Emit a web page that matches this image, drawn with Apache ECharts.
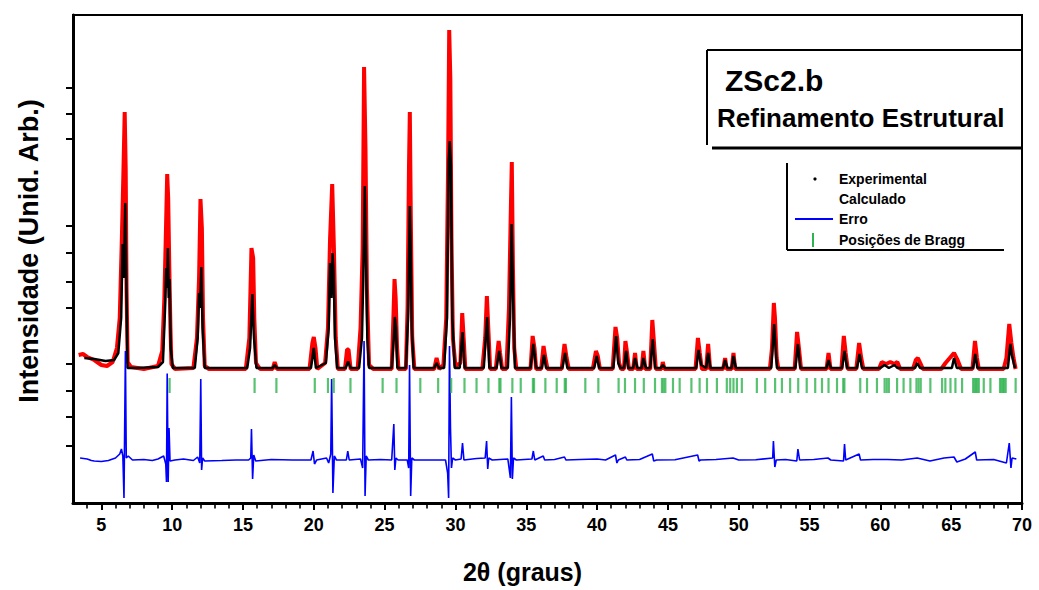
<!DOCTYPE html>
<html>
<head>
<meta charset="utf-8">
<script src="https://cdn.jsdelivr.net/npm/echarts/dist/echarts.min.js"></script>
<style>
html,body{margin:0;padding:0;background:#fff;}
#chart{width:1039px;height:590px;}
</style>
</head>
<body>
<div id="chart"></div>
<script>
// ---- Data (2θ in degrees, intensity in arbitrary units) ----
const xTickLabels = [5,10,15,20,25,30,35,40,45,50,55,60,65,70];
const xMinorTicks = [4,6,7,8,9,11,12,13,14,16,17,18,19,21,22,23,24,26,27,28,29,31,32,33,34,36,37,38,39,41,42,43,44,46,47,48,49,51,52,53,54,56,57,58,59,61,62,63,64,66,67,68,69];
const yTickValues = [2806,2547,2289,1427,1151,864,599,47,-229,-487,-773];

const experimental = [
[3.4,130],[3.7,140],[4.0,110],[4.5,80],[5.0,30],[5.4,20],[5.8,60],[6.1,200],[6.3,500],[6.45,1300],[6.55,1900],[6.65,2560],[6.72,2000],[6.78,800],[6.86,60],[7.1,10],[8.0,-10],[9.0,20],
[9.3,170],[9.45,700],[9.55,1300],[9.65,1940],[9.72,1700],[9.8,1000],[9.88,400],[9.95,40],[10.2,-10],
[11.5,0],[11.75,300],[11.9,900],[12.0,1690],[12.1,1400],[12.18,500],[12.3,20],[12.6,-10],
[15.2,-10],[15.45,300],[15.6,1200],[15.72,1100],[15.8,500],[15.92,50],[16.2,-10],
[17.1,-10],[17.24,60],[17.4,-10],
[19.7,-10],[19.9,250],[20.0,310],[20.12,200],[20.25,-10],
[20.8,50],[21.0,400],[21.15,1300],[21.3,1840],[21.42,1200],[21.55,300],[21.7,-10],
[22.2,-10],[22.35,185],[22.45,185],[22.6,-10],
[23.1,-10],[23.3,400],[23.45,1200],[23.55,3010],[23.65,2200],[23.75,800],[23.9,30],[24.2,-10],
[25.5,-10],[25.62,500],[25.7,890],[25.78,700],[25.88,200],[25.98,-10],
[26.5,-10],[26.62,600],[26.72,2000],[26.78,2560],[26.85,1500],[26.95,300],[27.1,-10],
[28.5,-10],[28.67,100],[28.85,-10],
[29.15,30],[29.35,500],[29.48,2000],[29.56,3380],[29.64,2900],[29.72,1300],[29.82,300],[30.0,20],
[30.35,50],[30.48,550],[30.58,300],[30.7,-10],
[31.9,-10],[32.1,300],[32.22,720],[32.32,400],[32.45,-10],
[32.85,-10],[33.05,270],[33.15,150],[33.3,-10],
[33.6,-10],[33.78,600],[33.9,1500],[33.98,2060],[34.06,1000],[34.15,200],[34.3,-10],
[35.3,-10],[35.45,320],[35.58,200],[35.7,-10],
[36.05,-10],[36.22,220],[36.35,100],[36.5,-10],
[37.5,-10],[37.7,240],[37.85,100],[38.0,-10],
[39.7,-10],[39.92,170],[40.05,120],[40.2,-10],
[41.1,-10],[41.3,410],[41.42,300],[41.55,50],[41.7,-10],
[41.9,-10],[42.0,270],[42.12,150],[42.25,-10],
[42.55,-10],[42.68,150],[42.8,-10],
[43.15,-10],[43.27,170],[43.4,-10],
[43.75,-10],[43.9,480],[44.02,250],[44.15,-10],
[44.55,-10],[44.64,60],[44.75,-10],
[46.95,-10],[47.12,300],[47.25,150],[47.4,-10],
[47.7,-10],[47.84,240],[47.98,-10],
[48.9,-10],[49.04,100],[49.15,-10],
[49.5,-10],[49.63,150],[49.75,-10],
[52.2,-10],[52.35,200],[52.48,650],[52.56,500],[52.68,100],[52.8,-10],
[53.95,-10],[54.12,360],[54.25,200],[54.4,-10],
[56.2,-10],[56.34,150],[56.48,-10],
[57.25,-10],[57.42,320],[57.55,150],[57.7,-10],
[58.3,-10],[58.5,250],[58.65,100],[58.8,-10],
[59.9,-10],[60.1,60],[60.4,40],[60.7,60],[61.0,40],[61.2,60],[61.4,-10],
[62.3,-10],[62.5,80],[62.65,100],[62.85,40],[63.0,-10],
[64.3,-10],[64.6,50],[64.9,100],[65.2,150],[65.45,80],[65.7,-10],
[66.5,-10],[66.68,270],[66.82,100],[66.95,-10],
[68.7,-10],[68.9,100],[69.1,440],[69.25,250],[69.4,100],[69.55,-10]
];

const calculated = [
[3.8,100],[4.5,90],[5.3,70],[5.9,80],[6.2,150],[6.4,500],[6.5,1240],[6.58,900],[6.69,1650],[6.78,700],[6.85,0],
[7.5,0],[9.0,10],[9.35,60],[9.5,600],[9.58,1000],[9.65,800],[9.7,1200],[9.76,700],[9.82,890],[9.9,200],[10.05,0],
[11.6,0],[11.8,300],[11.9,750],[11.97,600],[12.06,1010],[12.15,400],[12.3,0],
[15.3,0],[15.5,200],[15.66,740],[15.78,300],[15.95,0],
[17.1,0],[17.24,30],[17.4,0],
[19.8,0],[20.0,200],[20.15,0],
[20.85,50],[21.05,400],[21.15,1050],[21.25,700],[21.32,1150],[21.4,960],[21.5,300],[21.65,0],
[22.25,0],[22.42,65],[22.6,0],
[23.2,0],[23.4,300],[23.5,940],[23.6,1820],[23.7,1000],[23.78,300],[23.9,0],
[25.5,0],[25.65,300],[25.72,510],[25.8,410],[25.9,0],
[26.5,0],[26.65,500],[26.78,1620],[26.85,1100],[26.92,400],[27.05,0],
[28.5,0],[28.67,50],[28.85,0],
[29.2,0],[29.4,500],[29.52,2060],[29.6,2270],[29.68,2030],[29.78,500],[29.95,0],
[30.3,0],[30.5,360],[30.65,0],
[32.0,0],[32.24,510],[32.4,0],
[32.9,0],[33.09,170],[33.25,0],
[33.7,0],[33.85,500],[33.97,1440],[34.07,700],[34.2,0],
[35.3,0],[35.5,240],[35.7,0],
[36.1,0],[36.25,130],[36.4,0],
[37.55,0],[37.74,150],[37.9,0],
[39.8,0],[39.97,120],[40.15,0],
[41.15,0],[41.34,320],[41.5,50],[41.65,0],
[41.9,0],[42.05,170],[42.2,0],
[42.55,0],[42.68,100],[42.85,0],
[43.15,0],[43.27,100],[43.45,0],
[43.75,0],[43.93,290],[44.1,0],
[44.5,0],[44.64,30],[44.8,0],
[47.0,0],[47.16,180],[47.35,30],[47.7,0],[47.84,150],[48.0,0],
[48.9,0],[49.04,80],[49.2,0],
[49.5,0],[49.63,120],[49.8,0],
[52.3,0],[52.5,440],[52.58,250],[52.7,0],
[54.0,0],[54.18,240],[54.35,0],
[56.2,0],[56.34,80],[56.5,0],
[57.3,0],[57.47,170],[57.65,0],
[58.35,0],[58.53,140],[58.7,0],
[60.0,0],[60.3,30],[60.6,0],[61.0,30],[61.2,0],
[62.45,0],[62.6,50],[62.8,0],
[65.05,0],[65.2,100],[65.4,0],
[66.55,0],[66.7,140],[66.85,0],
[69.0,0],[69.18,240],[69.3,120],[69.5,0]
];

const difference = [
[3.5,-900],[4.0,-910],[4.3,-925],[4.5,-930],[5.0,-935],[5.5,-925],[6.0,-900],[6.3,-860],[6.42,-810],[6.52,-880],[6.6,-1300],[6.7,170],[6.76,-900],[6.9,-880],[7.2,-920],[8.0,-915],[8.6,-925],[9.0,-910],
[9.4,-880],[9.55,-960],[9.6,-1140],[9.65,-56],[9.72,-1140],[9.78,-600],[9.85,-930],[10.2,-920],[10.8,-910],
[11.5,-925],[11.8,-890],[11.95,-950],[12.02,-110],[12.08,-1020],[12.15,-900],[12.3,-930],[13.5,-925],[14.5,-920],
[15.4,-920],[15.55,-900],[15.6,-610],[15.68,-1110],[15.76,-870],[15.9,-930],[17.0,-915],[18.5,-920],
[19.8,-920],[19.95,-830],[20.05,-960],[20.2,-920],
[20.9,-900],[21.05,-950],[21.2,-860],[21.26,-110],[21.35,-1250],[21.45,-880],[21.6,-920],
[22.3,-920],[22.4,-830],[22.5,-920],
[23.3,-910],[23.45,-1000],[23.55,270],[23.62,-1280],[23.7,-880],[23.85,-920],[24.7,-915],
[25.5,-920],[25.65,-560],[25.72,-1020],[25.8,-900],[25.95,-920],
[26.6,-920],[26.7,-1000],[26.76,30],[26.84,-1280],[26.92,-900],[27.1,-920],
[28.5,-920],[29.3,-920],[29.45,-1050],[29.52,-1300],[29.58,220],[29.65,-600],[29.72,-1000],[29.8,-900],[30.0,-920],
[30.4,-910],[30.5,-750],[30.6,-920],[31.5,-905],
[32.1,-900],[32.2,-730],[32.28,-1010],[32.35,-900],[32.6,-920],
[33.7,-910],[33.88,-1100],[33.95,-290],[34.02,-1110],[34.1,-900],[34.3,-920],
[35.4,-910],[35.5,-830],[35.6,-920],[36.2,-880],[36.3,-920],[37.0,-915],[37.7,-890],[37.8,-920],[38.8,-915],[40.0,-910],[40.6,-920],
[41.3,-870],[41.4,-950],[41.5,-920],[42.0,-890],[42.1,-920],[43.0,-915],[43.9,-860],[44.0,-930],[44.2,-920],[45.5,-918],
[47.1,-870],[47.2,-930],[47.3,-920],[48.4,-915],[49.6,-900],[50.0,-920],[51.2,-918],
[52.4,-900],[52.45,-730],[52.55,-990],[52.65,-920],[53.3,-915],
[54.1,-930],[54.18,-810],[54.3,-920],[55.3,-915],[56.3,-900],[56.5,-920],[57.4,-930],[57.47,-760],[57.55,-920],
[58.5,-860],[58.6,-920],[59.5,-915],[60.5,-915],[61.5,-920],[62.6,-900],[63.5,-930],[64.5,-900],[65.2,-890],[65.4,-940],[66.0,-910],
[66.7,-840],[66.8,-920],[68.0,-915],[68.9,-950],[69.1,-750],[69.22,-1000],[69.3,-900],[69.6,-910]
];

const braggPositions = [9.82,15.82,17.36,20.07,21.0,21.41,22.59,24.86,25.84,27.52,28.78,29.70,30.64,31.49,32.33,33.10,33.18,34.02,34.61,35.47,35.55,36.35,37.15,37.72,37.80,39.17,40.09,41.52,41.97,42.68,43.30,44.09,44.58,44.70,44.82,45.36,45.83,46.66,47.24,47.76,48.46,49.16,49.40,49.63,49.87,50.22,51.28,51.87,52.57,53.05,53.63,54.20,54.80,55.40,55.88,56.34,56.94,57.38,57.46,58.58,59.06,59.76,60.30,60.45,60.60,61.18,61.64,62.12,62.55,62.70,62.85,63.53,64.36,64.59,64.95,65.30,65.77,66.55,66.65,66.75,66.85,66.95,67.30,67.77,68.45,68.55,68.65,68.75,68.85,69.55];

const legendNames = ['Experimental','Calculado','Erro','Posições de Bragg'];
const titleLines = ['ZSc2.b','Refinamento Estrutural'];
const axisTitles = {x:'2θ (graus)', y:'Intensidade (Unid. Arb.)'};

// ---- Layout / style config ----
const BRAGG_LEVEL = -175;
const FONT = '"Liberation Sans", Arial, sans-serif';

const chart = echarts.init(document.getElementById('chart'), null, {renderer:'svg'});

const lgX = 839, lgRows = [179, 199, 219, 240];
const graphic = [
  // title box
  {type:'line', shape:{x1:707,y1:50,x2:1021,y2:50}, style:{stroke:'#000',lineWidth:2}},
  {type:'line', shape:{x1:707,y1:50,x2:707,y2:145}, style:{stroke:'#000',lineWidth:2}},
  {type:'line', shape:{x1:712,y1:148,x2:1021,y2:148}, style:{stroke:'#000',lineWidth:3}},
  {type:'text', x:725, y:80, style:{text:titleLines[0], font:'bold 30px '+FONT, fill:'#000', align:'left', verticalAlign:'middle', textAlign:'left', textVerticalAlign:'middle'}},
  {type:'text', x:717, y:118, style:{text:titleLines[1], font:'bold 26px '+FONT, fill:'#000', align:'left', verticalAlign:'middle', textAlign:'left', textVerticalAlign:'middle'}},
  // legend box
  {type:'line', shape:{x1:787,y1:163,x2:787,y2:250}, style:{stroke:'#000',lineWidth:2}},
  {type:'line', shape:{x1:787,y1:250,x2:1004,y2:250}, style:{stroke:'#000',lineWidth:2}},
  {type:'circle', shape:{cx:815,cy:lgRows[0],r:1.6}, style:{fill:'#000'}},
  {type:'line', shape:{x1:795,y1:lgRows[2],x2:833,y2:lgRows[2]}, style:{stroke:'#0000ff',lineWidth:2}},
  {type:'line', shape:{x1:813,y1:lgRows[3]-7,x2:813,y2:lgRows[3]+7}, style:{stroke:'#2eb34f',lineWidth:2}}
];
legendNames.forEach((n,i)=>{
  graphic.push({type:'text', x:lgX, y:lgRows[i], style:{text:n, font:'bold 14px '+FONT, fill:'#000', align:'left', verticalAlign:'middle', textAlign:'left', textVerticalAlign:'middle'}});
});

const option = {
  animation:false,
  backgroundColor:'#fff',
  grid:{left:73, right:17, top:15, bottom:87, show:true, borderColor:'#000', borderWidth:2, backgroundColor:'transparent', containLabel:false, outerBoundsMode:'none'},
  xAxis:[{
    type:'value', min:3, max:70,
    name:axisTitles.x, nameLocation:'middle', nameGap:56,
    nameTextStyle:{fontFamily:FONT, fontWeight:'bold', fontSize:25, color:'#000', padding:[0,50,0,0]},
    axisLine:{show:true, onZero:false, lineStyle:{color:'#000', width:3}},
    axisTick:{show:true, length:7, lineStyle:{color:'#000', width:2}, customValues:xTickLabels},
    axisLabel:{show:true, customValues:xTickLabels, fontFamily:FONT, fontWeight:'bold', fontSize:18, color:'#000', margin:13},
    splitLine:{show:false}
  },{
    type:'value', min:3, max:70, position:'bottom',
    axisLine:{show:false, onZero:false},
    axisTick:{show:true, length:5.5, lineStyle:{color:'#000', width:1.6}, customValues:xMinorTicks},
    axisLabel:{show:false},
    splitLine:{show:false}
  }],
  yAxis:{
    type:'value', min:-1350, max:3530,
    name:axisTitles.y, nameLocation:'middle', nameGap:31, nameRotate:90,
    nameTextStyle:{fontFamily:FONT, fontWeight:'bold', fontSize:27, color:'#000', padding:[0,0,0,16]},
    axisLine:{show:true, onZero:false, lineStyle:{color:'#000', width:3}},
    axisTick:{show:true, length:7, lineStyle:{color:'#000', width:2}, customValues:yTickValues},
    axisLabel:{show:false},
    splitLine:{show:false}
  },
  graphic: graphic,
  series:[
    {name:legendNames[0], type:'line', data:experimental, showSymbol:false, z:1,
     lineStyle:{color:'#ff0000', width:4}, itemStyle:{color:'#ff0000'}},
    {name:legendNames[1], type:'line', data:calculated, showSymbol:false, z:2,
     lineStyle:{color:'#000000', width:2.5}, itemStyle:{color:'#000'}},
    {name:legendNames[2], type:'line', data:difference, showSymbol:false, z:3,
     lineStyle:{color:'#0000ff', width:1.6}, itemStyle:{color:'#0000ff'}},
    {name:legendNames[3], type:'scatter', data:braggPositions.map(x=>[x,BRAGG_LEVEL]), z:3,
     symbol:'rect', symbolSize:[2.2,15], itemStyle:{color:'#2eb34f'}}
  ]
};
chart.setOption(option);
</script>
</body>
</html>
